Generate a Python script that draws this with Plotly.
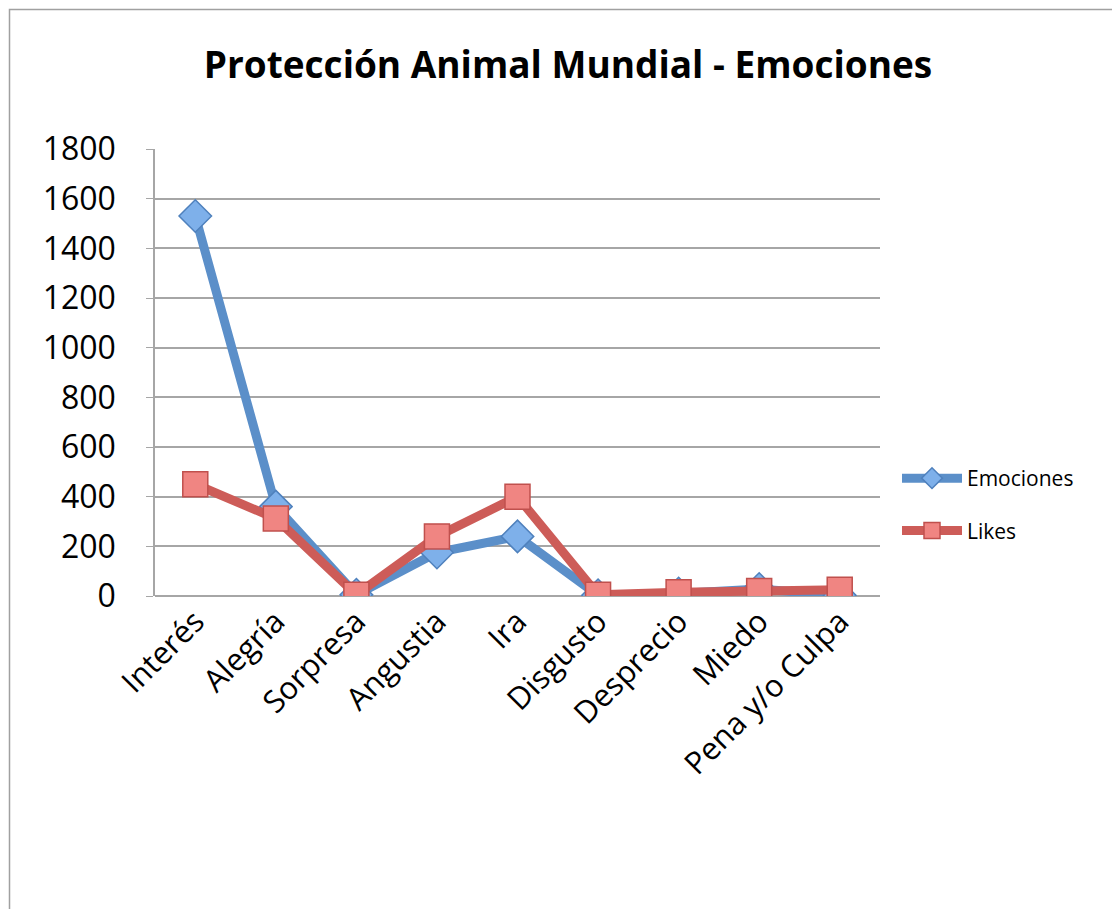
import plotly.graph_objects as go

categories = ["Interés", "Alegría", "Sorpresa", "Angustia", "Ira", "Disgusto", "Desprecio", "Miedo", "Pena y/o Culpa"]
emociones = [1530, 360, 5, 175, 240, 3, 10, 28, 3]
likes = [450, 312, 5, 240, 400, 5, 15, 20, 25]
y_ticks = [0, 200, 400, 600, 800, 1000, 1200, 1400, 1600, 1800]

OFF = 8  # default page body margin
W, H = 1112, 901
L, T = 155 - OFF, 149 - OFF
R = OFF + W - 880
B = OFF + H - 596
pw, ph = W - L - R, H - T - B


def px_x(x):
    return (x - OFF - L) / pw


def px_y(y):
    return 1 - (y - OFF - T) / ph


fig = go.Figure()
fig.add_trace(go.Scatter(
    x=categories, y=emociones, name="Emociones", mode="lines+markers", legendgroup="e",
    line=dict(color="#5b8fc9", width=9),
    marker=dict(symbol="diamond", size=25, color="#7eb0ea", line=dict(color="#4f81bd", width=1.5)),
))
fig.add_trace(go.Scatter(
    x=categories, y=likes, name="Likes", mode="lines+markers", legendgroup="l",
    line=dict(color="#cd5c58", width=9),
    marker=dict(symbol="square", size=25, color="#f08582", line=dict(color="#c0504d", width=1.5)),
))

fig.update_layout(
    width=W, height=H,
    margin=dict(l=L, r=R, t=T, b=B),
    paper_bgcolor="white", plot_bgcolor="white",
    font=dict(family="Open Sans, Lato, sans-serif", color="black"),
    title=dict(text="<b>Protección Animal Mundial - Emociones</b>",
               x=px_x(568), xref="paper", xanchor="center", y=1 - (65 - OFF) / H, yanchor="middle",
               font=dict(size=37, family="Open Sans, sans-serif", color="black")),
    showlegend=True,
    legend=dict(x=px_x(897), y=px_y(458), xanchor="left", yanchor="top",
                font=dict(size=21, family="Open Sans, sans-serif"),
                itemwidth=60, tracegroupgap=22, bgcolor="rgba(0,0,0,0)"),
    xaxis=dict(type="category", categoryorder="array", categoryarray=categories,
               range=[-0.5, len(categories) - 0.5],
               tickangle=-45, tickfont=dict(size=31), showgrid=False,
               showline=False, zeroline=False, ticks=""),
    yaxis=dict(range=[0, 1800], tickvals=y_ticks, tickfont=dict(size=32),
               showgrid=True, gridcolor="#a6a6a6", gridwidth=1.5,
               showline=True, linecolor="#a6a6a6", linewidth=1.5,
               ticks="outside", ticklen=7, tickcolor="#a6a6a6",
               zeroline=True, zerolinecolor="#a6a6a6", zerolinewidth=1.5,
               ticklabelstandoff=24),
)

fig.add_shape(type="rect", xref="paper", yref="paper",
              x0=px_x(9.5), x1=px_x(W + 40),
              y0=px_y(H + 40), y1=px_y(9.5),
              line=dict(color="#a0a0a0", width=1.5), fillcolor="rgba(0,0,0,0)", layer="below")

fig.write_html("out.html")
